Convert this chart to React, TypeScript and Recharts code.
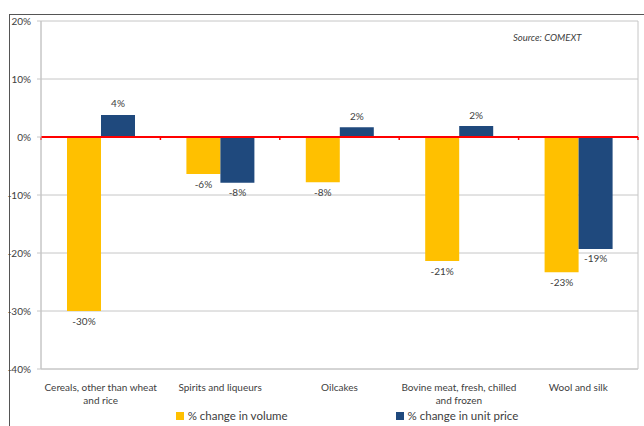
import React from "react";
import {
  BarChart,
  Bar,
  XAxis,
  YAxis,
  CartesianGrid,
  ReferenceLine,
  LabelList,
  Legend,
} from "recharts";

const categories = [
  "Cereals, other than wheat and rice",
  "Spirits and liqueurs",
  "Oilcakes",
  "Bovine meat, fresh, chilled and frozen",
  "Wool and silk",
];
const volumeChange = [-30, -6.4, -7.8, -21.4, -23.3];
const unitPriceChange = [3.8, -7.9, 1.7, 1.9, -19.3];
const yTicks = [-40, -30, -20, -10, 0, 10, 20];
const seriesNames = ["% change in volume", "% change in unit price"];
const colors = ["#FFC000", "#1F497D"];

const data = categories.map((name, i) => ({
  name,
  volume: volumeChange[i],
  price: unitPriceChange[i],
}));

const FONT = "Lato, 'Open Sans', sans-serif";
const TEXT = "#404040";
const GRID = "#c6c6c6";

// greedy word wrap by character count
const wrap = (s: string, max: number) => {
  const lines: string[] = [];
  let cur = "";
  s.split(" ").forEach((w) => {
    const next = cur ? cur + " " + w : w;
    if (next.length > max && cur) {
      lines.push(cur);
      cur = w;
    } else {
      cur = next;
    }
  });
  if (cur) lines.push(cur);
  return lines;
};

const ValueLabel = (props: any) => {
  const { x, y, width, height, value } = props;
  const top = Math.min(y, y + height);
  const bottom = Math.max(y, y + height);
  const ty = value >= 0 ? top - 10 : bottom + 11;
  return (
    <text
      x={x + width / 2}
      y={ty}
      textAnchor="middle"
      dominantBaseline="middle"
      fontSize={10}
      fill={TEXT}
      fontFamily={FONT}
    >
      {`${Math.round(value)}%`}
    </text>
  );
};

const CategoryTick = (props: any) => {
  const { x, y, payload } = props;
  const lines = wrap(payload.value, 27);
  return (
    <text
      x={x}
      y={y + 14}
      textAnchor="middle"
      fontSize={10}
      fill={TEXT}
      fontFamily={FONT}
    >
      {lines.map((l, i) => (
        <tspan key={i} x={x} dy={i === 0 ? 0 : 13}>
          {l}
        </tspan>
      ))}
    </text>
  );
};

// red zero line with small marks between categories
const ZeroLine = (props: any) => {
  const { x1, y1, x2, y2 } = props;
  const step = (x2 - x1) / categories.length;
  return (
    <g>
      {categories.concat([""]).map((_, i) => (
        <line
          key={i}
          x1={x1 + i * step}
          x2={x1 + i * step}
          y1={y1}
          y2={y1 + 3}
          stroke="#FF0000"
          strokeWidth={1.5}
        />
      ))}
      <line x1={x1} y1={y1} x2={x2} y2={y2} stroke="#FF0000" strokeWidth={2} />
    </g>
  );
};

const CustomLegend = () => (
  <div
    style={{
      display: "flex",
      justifyContent: "center",
      gap: 108,
      fontSize: 11.5,
      color: TEXT,
      fontFamily: FONT,
      paddingLeft: 56,
      paddingTop: 7,
    }}
  >
    {seriesNames.map((n, i) => (
      <div key={n} style={{ display: "flex", alignItems: "center", gap: 4 }}>
        <div style={{ width: 8, height: 8, background: colors[i] }} />
        <span>{n}</span>
      </div>
    ))}
  </div>
);

export default function App() {
  return (
    <div
      style={{
        position: "absolute",
        left: 0,
        top: 0,
        width: 644,
        height: 426,
        background: "#fff",
      }}
    >
      {/* outer frame */}
      <div
        style={{
          position: "absolute",
          left: 9,
          top: 14,
          right: 0,
          bottom: 0,
          borderTop: "1px solid #555",
          borderLeft: "1px solid #555",
        }}
      />
      <BarChart
        width={644}
        height={426}
        data={data}
        margin={{ top: 21, right: 6, left: 0, bottom: 2 }}
        barSize={34}
        barGap={0}
      >
        <CartesianGrid
          stroke={GRID}
          verticalCoordinatesGenerator={({ offset }: any) => [
            offset.left,
            offset.left + offset.width,
          ]}
        />
        <XAxis
          dataKey="name"
          height={33}
          axisLine={{ stroke: GRID }}
          tickLine={false}
          interval={0}
          tick={<CategoryTick />}
        />
        <YAxis
          width={41}
          domain={[-40, 20]}
          ticks={yTicks}
          tickFormatter={(v: number) => `${v}%`}
          axisLine={{ stroke: GRID }}
          tickLine={{ stroke: GRID }}
          tickSize={4}
          tickMargin={6}
          tick={{ fontSize: 10, fill: TEXT, fontFamily: FONT }}
        />
        <Legend
          verticalAlign="bottom"
          height={22}
          content={<CustomLegend />}
        />
        <Bar dataKey="volume" name={seriesNames[0]} fill={colors[0]} isAnimationActive={false}>
          <LabelList dataKey="volume" content={<ValueLabel />} />
        </Bar>
        <Bar dataKey="price" name={seriesNames[1]} fill={colors[1]} isAnimationActive={false}>
          <LabelList dataKey="price" content={<ValueLabel />} />
        </Bar>
        <ReferenceLine y={0} shape={<ZeroLine />} />
      </BarChart>
      <div
        style={{
          position: "absolute",
          left: 513,
          top: 32,
          fontSize: 9.5,
          fontStyle: "italic",
          color: TEXT,
          fontFamily: FONT,
        }}
      >
        Source: COMEXT
      </div>
    </div>
  );
}
